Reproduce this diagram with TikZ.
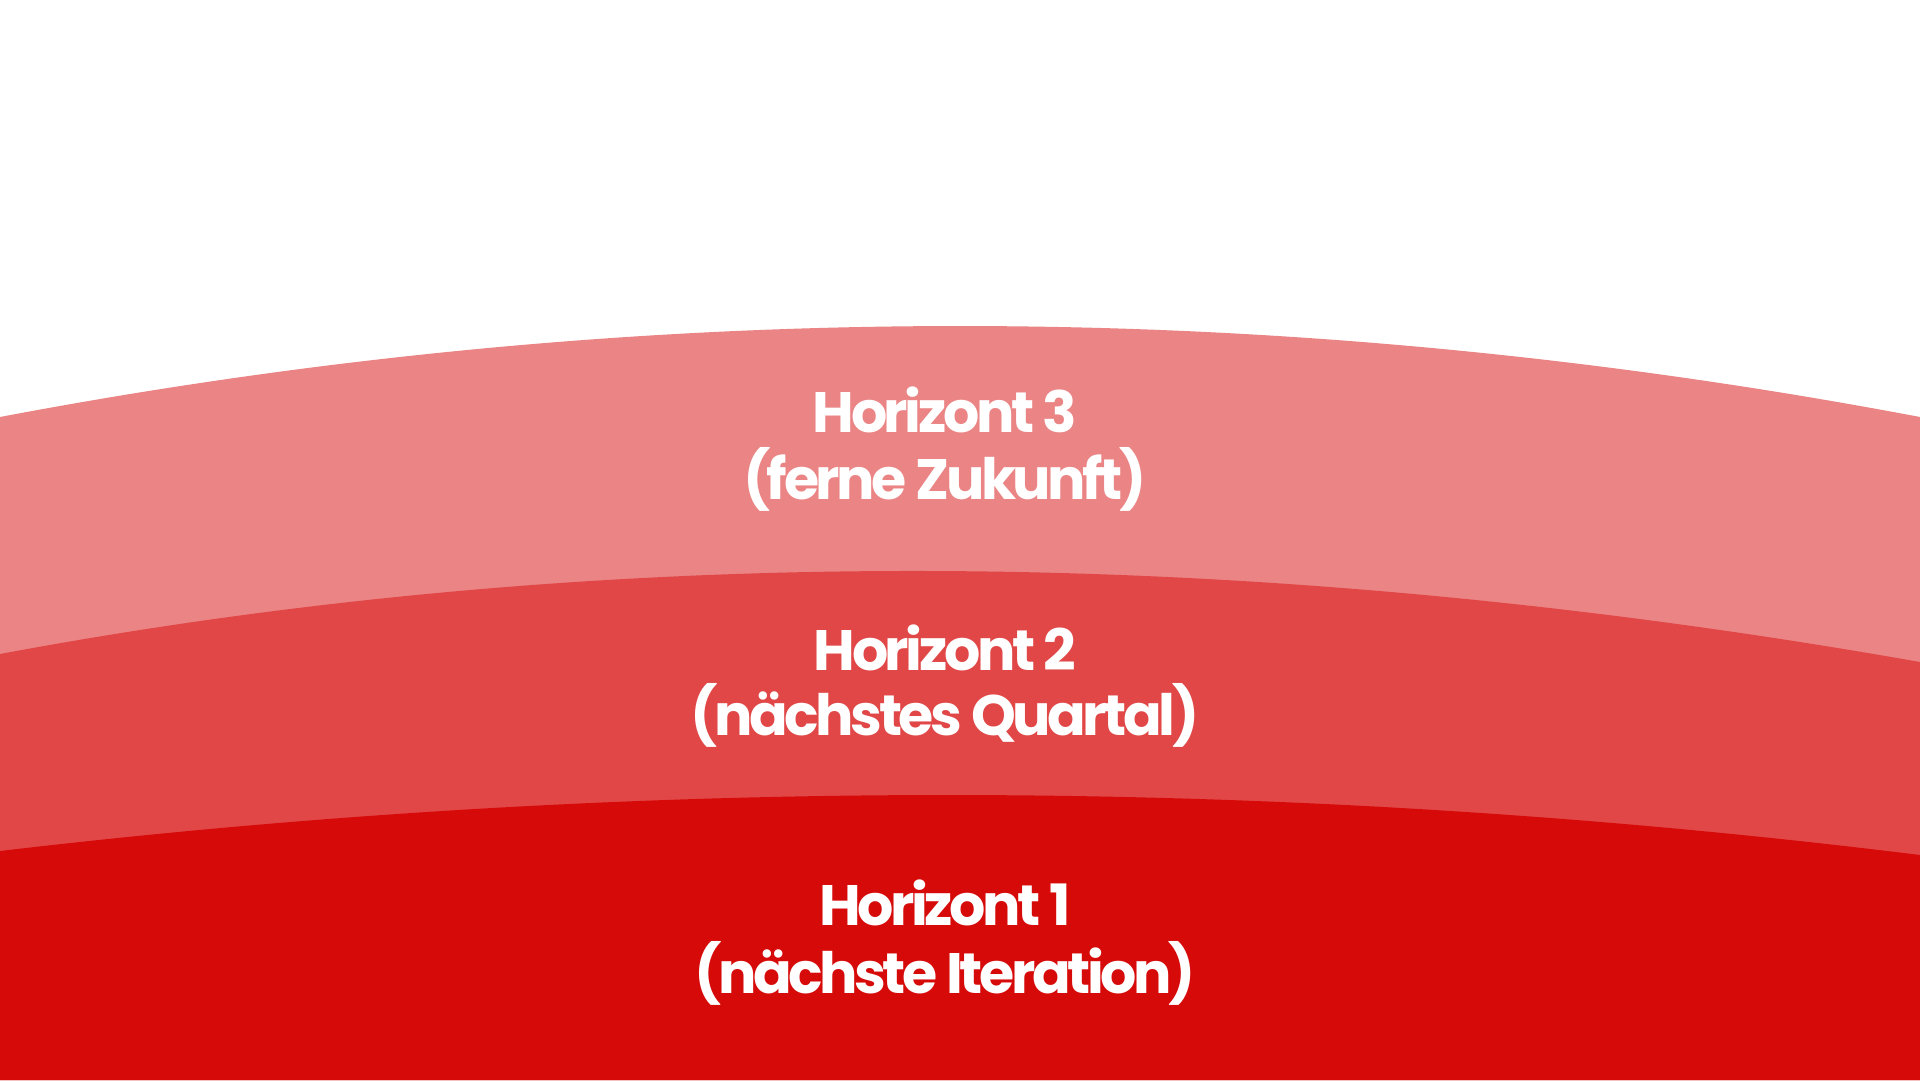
\documentclass[tikz,border=0pt]{standalone}
\usepackage{fontspec}
\newfontfamily\popfont[LetterSpace=-6]{Poppins}
\definecolor{hred}{HTML}{D70A0A}
\tikzset{
  band/.style={draw=none},
  lbl/.style={anchor=base, text=white, inner sep=0pt,
    font=\popfont\bfseries\fontsize{57}{67}\selectfont}
}
\begin{document}
\begin{tikzpicture}[x=1pt,y=-1pt]
\useasboundingbox (0,0) rectangle (1920,1080);
\fill[white] (0,0) rectangle (1920,1080);
% band 3
\fill[band, fill=hred!50!white] (0,417) .. controls (640,295.7) and (1280,295.7) .. (1920,417) -- (1920,1080) -- (0,1080) -- cycle;
% band 2
\fill[band, fill=hred!75!white] (0,654) .. controls (600,542) and (1240,542) .. (1920,662) -- (1920,1080) -- (0,1080) -- cycle;
% band 1
\fill[band, fill=hred] (0,851) .. controls (640,775.7) and (1280,775.7) .. (1920,855) -- (1920,1080) -- (0,1080) -- cycle;
% labels
\node[lbl] (h3a) at (945,432) {Horizont 3};
\node[lbl] (h3b) at (945,499) {(ferne Zukunft)};
\node[lbl] (h2a) at (945,670) {Horizont 2};
\node[lbl] (h2b) at (945,735) {(nächstes Quartal)};
\node[lbl] (h1a) at (945,925) {Horizont 1};
\node[lbl] (h1b) at (945,993) {(nächste Iteration)};
\end{tikzpicture}
\end{document}
